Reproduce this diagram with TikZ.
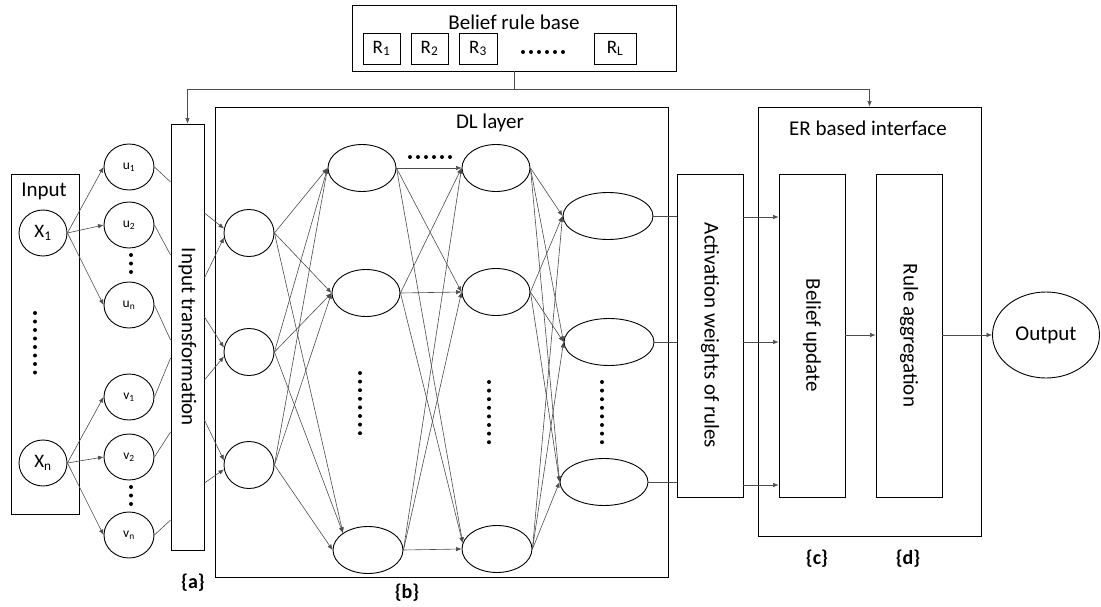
\documentclass[tikz,border=0pt]{standalone}
\usepackage{fontspec}
\setmainfont{Carlito}
\usetikzlibrary{shapes.geometric,arrows.meta,calc}

\begin{document}
\begin{tikzpicture}[x=1pt,y=-1pt,
  box/.style={draw, line width=0.9pt, fill=white, inner sep=0pt},
  neuron/.style={ellipse, draw, line width=0.9pt, inner sep=0pt, minimum height=47pt},
  link/.style={line width=0.6pt, draw=black!70},
  arr/.style={link, -{Latex[length=5.5pt,width=4.5pt]}},
  big/.style={font=\fontsize{21}{24}\selectfont},
  mid/.style={font=\fontsize{19}{22}\selectfont},
  small/.style={font=\fontsize{13.5}{15}\selectfont},
  tag/.style={font=\fontsize{20}{22}\selectfont\bfseries},
]
\useasboundingbox (0,0) rectangle (1101,607);

% ---------- belief rule base ----------
\node[box, minimum width=324pt, minimum height=66pt] (brb) at (514,38) {};
\node[big] (brbtitle) at (514,22) {Belief rule base};
\node[box, mid, minimum width=37pt, minimum height=31pt] (r1) at (381.5,48.5) {R\textsubscript{1}};
\node[box, mid, minimum width=37pt, minimum height=31pt] (r2) at (429.5,48.5) {R\textsubscript{2}};
\node[box, mid, minimum width=38pt, minimum height=31pt] (r3) at (478,48.5) {R\textsubscript{3}};
\node[box, mid, minimum width=42pt, minimum height=31pt] (rl) at (615,48.5) {R\textsubscript{L}};
\foreach \x in {0,...,5} \fill (523+8*\x,52) circle (2pt);

% ---------- input block ----------
\node[box, minimum width=68pt, minimum height=340pt] (inbox) at (45,344) {};
\node[big] (intitle) at (44,191) {Input};
\node[neuron, mid, minimum width=48pt, minimum height=46pt] (x1) at (43,233) {X\textsubscript{1}};
\node[neuron, mid, minimum width=48pt, minimum height=46pt] (xn) at (43,463) {X\textsubscript{n}};
\foreach \i in {0,...,7} \fill (35,313+8.5*\i) circle (2pt);

\node[neuron, small, minimum width=50pt, minimum height=46pt] (u1) at (129,167) {u\textsubscript{1}};
\node[neuron, small, minimum width=50pt, minimum height=46pt] (u2) at (129,225) {u\textsubscript{2}};
\node[neuron, small, minimum width=50pt, minimum height=46pt] (un) at (129,305) {u\textsubscript{n}};
\node[neuron, small, minimum width=50pt, minimum height=46pt] (v1) at (129,397) {v\textsubscript{1}};
\node[neuron, small, minimum width=50pt, minimum height=46pt] (v2) at (129,457) {v\textsubscript{2}};
\node[neuron, small, minimum width=50pt, minimum height=46pt] (vn) at (129,535) {v\textsubscript{n}};
\foreach \i in {0,1,2} {\fill (131,255+8.5*\i) circle (2pt); \fill (131,487+8.5*\i) circle (2pt);}

\foreach \t in {u1,u2,un} \draw[arr] (x1.east) -- (\t.west);
\foreach \t in {v1,v2,vn} \draw[arr] (xn.east) -- (\t.west);

% ---------- input transformation ----------
\node[box, minimum width=33pt, minimum height=426pt] (itbox) at (187.5,337) {};
\node[big, rotate=-90] (ittext) at (itbox) {Input transformation};

\draw[link] (u1.east) -- (itbox.west |- 0,182);
\draw[link] (u2.east) -- (itbox.west |- 0,255);
\draw[link] (un.east) -- (itbox.west |- 0,340);
\draw[link] (v1.east) -- (itbox.west |- 0,358);
\draw[link] (v2.east) -- (itbox.west |- 0,432);
\draw[link] (vn.east) -- (itbox.west |- 0,520);

% ---------- DL layer ----------
\node[box, fill=none, minimum width=453pt, minimum height=470pt] (dl) at (441.5,342) {};
\node[big] (dltitle) at (490,123) {DL layer};

\node[neuron, minimum width=50pt] (c1) at (249,233) {};
\node[neuron, minimum width=50pt] (c2) at (249,352) {};
\node[neuron, minimum width=50pt] (c3) at (249,465) {};
\node[neuron, minimum width=68pt] (a1) at (362,168) {};
\node[neuron, minimum width=68pt] (a2) at (366,293) {};
\node[neuron, minimum width=70pt] (a3) at (368,550) {};
\node[neuron, minimum width=68pt] (b1) at (496,168) {};
\node[neuron, minimum width=68pt] (b2) at (496,292) {};
\node[neuron, minimum width=70pt] (b3) at (497,549) {};
\node[neuron, minimum width=90pt] (d1) at (608,216) {};
\node[neuron, minimum width=90pt] (d2) at (609,342) {};
\node[neuron, minimum width=88pt] (d3) at (604,482) {};

\draw[arr] (itbox.east |- 0,213) -- (c1.170);
\draw[arr] (itbox.east |- 0,278) -- (c1.190);
\draw[arr] (itbox.east |- 0,317) -- (c2.170);
\draw[arr] (itbox.east |- 0,380) -- (c2.190);
\draw[arr] (itbox.east |- 0,420) -- (c3.170);
\draw[arr] (itbox.east |- 0,483) -- (c3.190);

% first hidden stage
\foreach \s in {c1,c2,c3} {
  \draw[arr] (\s.east) -- (a1.west);
  \draw[arr] (\s.east) -- (a2.west);
}
\draw[arr] (c1.east) -- (a3.north west);
\draw[arr] (c2.east) -- (a3.north west);
\draw[arr] (c3.east) -- (a3.west);

% second hidden stage
\foreach \s in {a1,a2,a3} {
  \draw[arr] (\s.east) -- (b1.west);
  \draw[arr] (\s.east) -- (b2.west);
}
\draw[arr] (a1.east) -- (b3.170);
\draw[arr] (a2.east) -- (b3.170);
\draw[arr] (a3.east) -- (b3.west);

% output stage of the DL layer
\foreach \s in {b1,b2,b3} {
  \draw[arr] (\s.east) -- (d1.west);
  \draw[arr] (\s.east) -- (d2.west);
  \draw[arr] (\s.east) -- (d3.west);
}

\foreach \x in {0,...,5} \fill (410+8*\x,157) circle (2pt);
\foreach \i in {0,...,7} {
  \fill (360,373+8.6*\i) circle (2pt);
  \fill (489,382+8.6*\i) circle (2pt);
  \fill (602,382+8.6*\i) circle (2pt);
}

% ---------- activation weights ----------
\node[box, minimum width=66pt, minimum height=323pt] (act) at (710,335.5) {};
\node[big, rotate=-90] (acttext) at (act) {Activation weights of rules};
\draw[link] (d1.east) -- (act.west |- d1.east);
\draw[link] (d2.east) -- (act.west |- d2.east);
\draw[link] (d3.east) -- (act.west |- d3.east);

% ---------- ER based interface ----------
\node[box, minimum width=223pt, minimum height=429pt] (er) at (869.5,321.5) {};
\node[big] (ertitle) at (868,128) {ER based interface};
\node[box, minimum width=66pt, minimum height=323pt] (bu) at (812,335.5) {};
\node[big, rotate=-90] (butext) at (bu) {Belief update};
\node[box, minimum width=66pt, minimum height=323pt] (ra) at (909,335.5) {};
\node[big, rotate=-90] (ratext) at (ra) {Rule aggregation};

\draw[arr] (act.east |- 0,217) -- (bu.west |- 0,217);
\draw[arr] (act.east |- 0,342) -- (bu.west |- 0,342);
\draw[arr] (act.east |- 0,485) -- (bu.west |- 0,485);
\draw[arr] (bu.east |- 0,335) -- (ra.west |- 0,335);

\node[ellipse, draw, line width=0.9pt, big, inner sep=0pt, minimum width=107pt, minimum height=86pt] (out) at (1046,335) {Output};
\draw[arr] (ra.east |- out.west) -- (out.west);

% ---------- feed from the rule base ----------
\coordinate (split) at (514,89);
\draw[link] (brb.south) -- (split);
\draw[arr] (split) -| (itbox.north);
\draw[arr] (split) -| (er.north);

% ---------- stage tags ----------
\node[tag] (taga) at (193,583) {\{a\}};
\node[tag] (tagb) at (407,593) {\{b\}};
\node[tag] (tagc) at (817,559) {\{c\}};
\node[tag] (tagd) at (908,559) {\{d\}};
\end{tikzpicture}
\end{document}
